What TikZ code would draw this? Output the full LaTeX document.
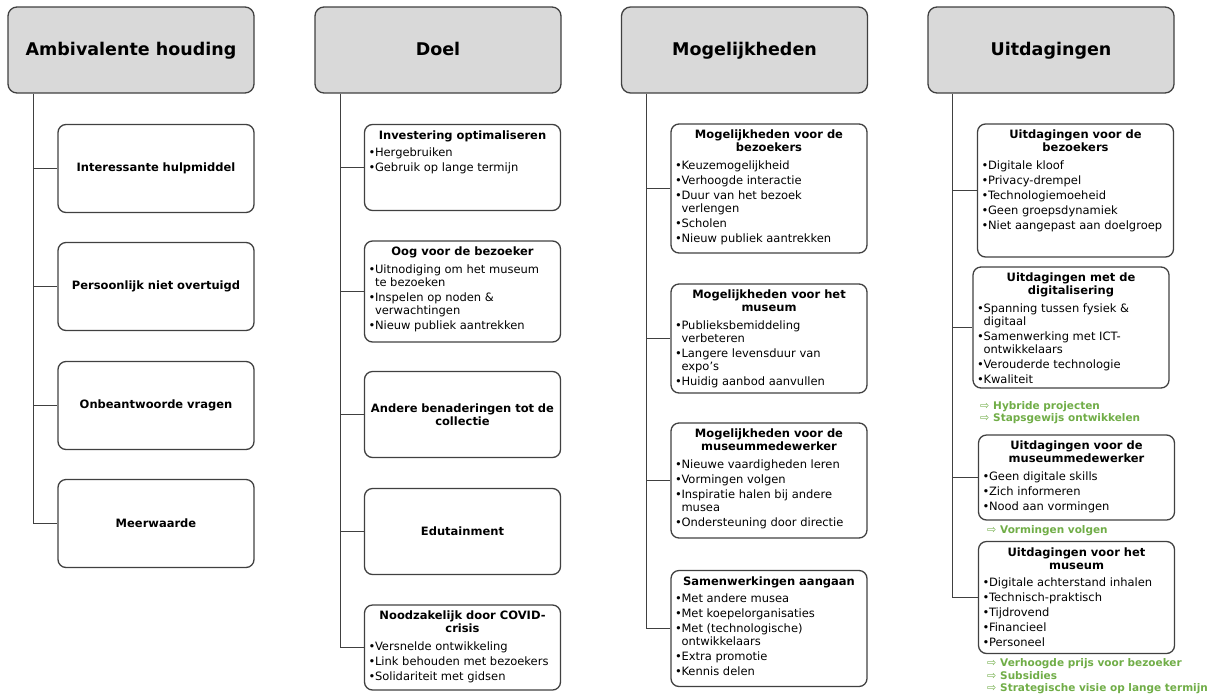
\documentclass[tikz,border=0pt]{standalone}
\usepackage{fontspec}
\setmainfont{DejaVu Sans}
\usepackage{xcolor}
\usepackage{tikz}

\definecolor{headfill}{RGB}{217,217,217}
\definecolor{linegray}{RGB}{64,64,64}
\definecolor{notegreen}{RGB}{112,173,71}

% box contents
\newcommand{\ttl}[1]{{\centering\bfseries\rule{0pt}{14.5pt}#1\par}\vspace{2.5pt}}
\newcommand{\itm}[1]{\hangindent=6.5pt\hangafter=1\noindent\makebox[6.5pt][l]{\textbullet}#1\par}
\newcommand{\subtext}[2]{\parbox[c][#1][t]{188pt}{\raggedright\setlength{\parskip}{2pt}#2}}
\newcommand{\arr}{\makebox[13pt][l]{\mdseries\fontsize{11}{11}\selectfont ⇨}}

\begin{document}
\begin{tikzpicture}[x=1pt, y=-1pt,
  headbox/.style={draw=linegray, fill=headfill, line width=1.3pt, rounded corners=9pt,
    minimum width=246pt, minimum height=86pt, text height=13.5pt, text depth=2.5pt,
    font=\fontsize{17.5}{21}\selectfont\bfseries},
  subbox/.style={draw=linegray, line width=1.3pt, rounded corners=8pt, inner xsep=4pt,
    inner ysep=0pt, font=\fontsize{11.5}{13}\selectfont},
  flatbox/.style={subbox, text width=188pt, align=center, minimum height=#1,
    font=\fontsize{11.5}{13.5}\selectfont\bfseries},
  link/.style={draw=linegray, line width=1.6pt},
  notetext/.style={text=notegreen, anchor=base west, inner sep=0pt,
    font=\fontsize{10.5}{12.5}\selectfont\bfseries}]
\useasboundingbox (0,0) rectangle (1215,697);

% Ambivalente houding
\node[headbox] (h1) at (131,50) {Ambivalente houding};
\coordinate (s1) at (33.5,0);
\node[flatbox=88pt] (a1) at (156,168.5) {Interessante hulpmiddel};
\node[flatbox=88pt] (a2) at (156,286.5) {Persoonlijk niet overtuigd};
\node[flatbox=88pt] (a3) at (156,405.5) {Onbeantwoorde vragen};
\node[flatbox=88pt] (a4) at (156,523.5) {Meerwaarde};
\draw[link] (h1.south -| s1) |- (a4.west);
\foreach \n in {a1,a2,a3}
  \draw[link] (\n.west -| s1) -- (\n.west);

% Doel
\node[headbox] (h2) at (438,50) {Doel};
\coordinate (s2) at (340.5,0);
\node[subbox] (b1) at (462.5,167.5) {\subtext{86pt}{\ttl{Investering optimaliseren}
  \itm{Hergebruiken}
  \itm{Gebruik op lange termijn}}};
\node[subbox] (b2) at (462.5,291.5) {\subtext{101pt}{\ttl{Oog voor de bezoeker}
  \itm{Uitnodiging om het museum\newline te bezoeken}
  \itm{Inspelen op noden \&\newline verwachtingen}
  \itm{Nieuw publiek aantrekken}}};
\node[flatbox=86pt] (b3) at (462.5,414.5) {Andere benaderingen tot de\\collectie};
\node[flatbox=86pt] (b4) at (462.5,531.5) {Edutainment};
\node[subbox] (b5) at (462.5,647.5) {\subtext{85pt}{\ttl{Noodzakelijk door COVID-\\crisis}
  \itm{Versnelde ontwikkeling}
  \itm{Link behouden met bezoekers}
  \itm{Solidariteit met gidsen}}};
\draw[link] (h2.south -| s2) |- (b5.west);
\foreach \n in {b1,b2,b3,b4}
  \draw[link] (\n.west -| s2) -- (\n.west);

% Mogelijkheden
\node[headbox] (h3) at (744.5,50) {Mogelijkheden};
\coordinate (s3) at (646.5,0);
\node[subbox] (c1) at (769,188.5) {\subtext{129pt}{\ttl{Mogelijkheden voor de\\bezoekers}
  \itm{Keuzemogelijkheid}
  \itm{Verhoogde interactie}
  \itm{Duur van het bezoek\newline verlengen}
  \itm{Scholen}
  \itm{Nieuw publiek aantrekken}}};
\node[subbox] (c2) at (769,338.5) {\subtext{109pt}{\ttl{Mogelijkheden voor het\\museum}
  \itm{Publieksbemiddeling\newline verbeteren}
  \itm{Langere levensduur van\newline expo’s}
  \itm{Huidig aanbod aanvullen}}};
\node[subbox] (c3) at (769,480.5) {\subtext{115pt}{\ttl{Mogelijkheden voor de\\museummedewerker}
  \itm{Nieuwe vaardigheden leren}
  \itm{Vormingen volgen}
  \itm{Inspiratie halen bij andere\newline musea}
  \itm{Ondersteuning door directie}}};
\node[subbox] (c4) at (769,628.5) {\subtext{116pt}{\ttl{Samenwerkingen aangaan}
  \itm{Met andere musea}
  \itm{Met koepelorganisaties}
  \itm{Met (technologische)\newline ontwikkelaars}
  \itm{Extra promotie}
  \itm{Kennis delen}}};
\draw[link] (h3.south -| s3) |- (c4.west);
\foreach \n in {c1,c2,c3}
  \draw[link] (\n.west -| s3) -- (\n.west);

% Uitdagingen
\node[headbox] (h4) at (1051,50) {Uitdagingen};
\coordinate (s4) at (952.5,0);
\node[subbox] (d1) at (1075.5,190.5) {\subtext{133pt}{\ttl{Uitdagingen voor de\\bezoekers}
  \itm{Digitale kloof}
  \itm{Privacy-drempel}
  \itm{Technologiemoeheid}
  \itm{Geen groepsdynamiek}
  \itm{Niet aangepast aan doelgroep}}};
\node[subbox] (d2) at (1071,327.5) {\subtext{121pt}{\ttl{Uitdagingen met de\\digitalisering}
  \itm{Spanning tussen fysiek \&\newline digitaal}
  \itm{Samenwerking met ICT-\newline ontwikkelaars}
  \itm{Verouderde technologie}
  \itm{Kwaliteit}}};
\node[subbox] (d3) at (1076.5,477.5) {\subtext{85pt}{\ttl{Uitdagingen voor de\\museummedewerker}
  \itm{Geen digitale skills}
  \itm{Zich informeren}
  \itm{Nood aan vormingen}}};
\node[subbox] (d4) at (1076.5,597.5) {\subtext{112pt}{\ttl{Uitdagingen voor het\\museum}
  \itm{Digitale achterstand inhalen}
  \itm{Technisch-praktisch}
  \itm{Tijdrovend}
  \itm{Financieel}
  \itm{Personeel}}};
\draw[link] (h4.south -| s4) |- (d4.west);
\foreach \n in {d1,d2,d3}
  \draw[link] (\n.west -| s4) -- (\n.west);

% green notes
\node[notetext] (g1) at (980,409.5) {\arr Hybride projecten};
\node[notetext] (g2) at (980,421.5) {\arr Stapsgewijs ontwikkelen};
\node[notetext] (g3) at (987,533.5) {\arr Vormingen volgen};
\node[notetext] (g4) at (987,666.5) {\arr Verhoogde prijs voor bezoeker};
\node[notetext] (g5) at (987,679) {\arr Subsidies};
\node[notetext] (g6) at (987,691.5) {\arr Strategische visie op lange termijn};
\end{tikzpicture}
\end{document}
